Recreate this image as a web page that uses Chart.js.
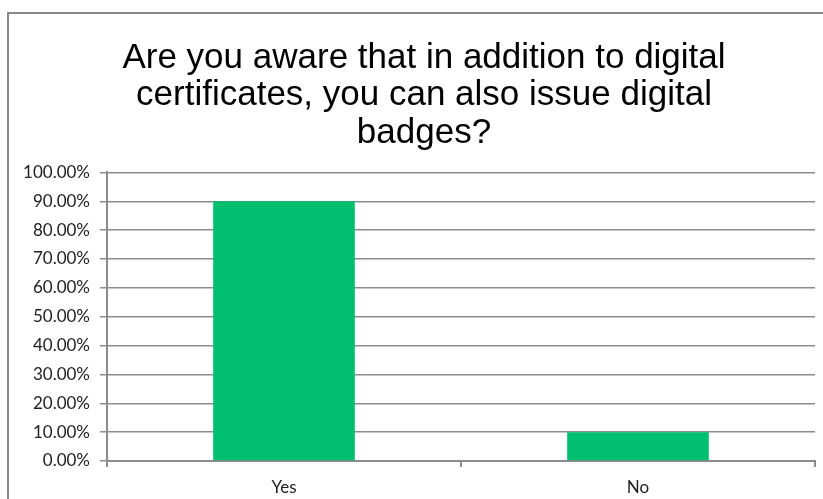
<!DOCTYPE html>
<html>
<head>
<meta charset="utf-8">
<script src="https://cdn.jsdelivr.net/npm/chart.js@4/dist/chart.umd.min.js"></script>
<style>
    html, body { margin: 0; padding: 0; background: #fff; overflow: hidden; }
    #wrap { position: absolute; left: 0; top: 0; width: 823px; height: 499px; overflow: hidden; }
    #frame { position: absolute; left: 7px; top: 12px; width: 900px; height: 600px; border: 2px solid #888; }
    #holder { position: absolute; left: 0; top: 0; width: 848px; height: 499px; }
</style>
</head>
<body>
<div id="wrap">
    <div id="frame"></div>
    <div id="holder"><canvas id="awareChart" width="848" height="499"></canvas></div>
</div>
<script>
// Chart data
const categories = ['Yes', 'No'];
const percentValues = [90, 10];
const titleLines = [
    'Are you aware that in addition to digital',
    'certificates, you can also issue digital',
    'badges?'
];

const gridGray = '#8c8c8c';
const barGreen = '#00bf6f';
const tickFont = { family: 'Lato, "Open Sans", sans-serif', size: 17 };

// Centre the title on the full (clipped) chart frame rather than the padded box
const titleShift = {
    id: 'titleShift',
    afterLayout(chart) {
        if (chart.titleBlock) {
            chart.titleBlock.left += 5;
            chart.titleBlock.right += 5;
        }
    }
};

const ctx = document.getElementById('awareChart').getContext('2d');

window.myChart = new Chart(ctx, {
    type: 'bar',
    data: {
        labels: categories,
        datasets: [
            {
                label: 'Responses',
                data: percentValues,
                backgroundColor: barGreen,
                borderWidth: 0,
                barPercentage: 0.4,
                categoryPercentage: 1.0,
            }
        ]
    },
    options: {
        responsive: false,
        animation: false,
        layout: {
            padding: { left: 23, right: 33, top: 0, bottom: 0 }
        },
        plugins: {
            legend: { display: false },
            tooltip: { enabled: false },
            title: {
                display: true,
                text: titleLines,
                color: '#000',
                font: { family: '"Liberation Sans", Arial, sans-serif', size: 35, weight: 'normal', lineHeight: 1.08 },
                padding: { top: 39, bottom: 20 }
            }
        },
        scales: {
            x: {
                border: { display: true, color: gridGray, width: 2 },
                grid: { display: true, drawOnChartArea: false, drawTicks: true, tickLength: 6, color: gridGray, lineWidth: 2 },
                ticks: {
                    color: '#222',
                    padding: 10,
                    font: tickFont
                },
                afterFit: function(scale) { scale.height = 38; }
            },
            y: {
                min: 0,
                max: 100,
                border: { display: true, color: gridGray, width: 2 },
                grid: { color: gridGray, lineWidth: 1.5, tickLength: 7 },
                ticks: {
                    stepSize: 10,
                    color: '#222',
                    padding: 10,
                    font: tickFont,
                    callback: function(value) { return value.toFixed(2) + '%'; }
                },
                afterFit: function(scale) { scale.width = 84; }
            }
        }
    },
    plugins: [titleShift]
});
</script>
</body>
</html>
